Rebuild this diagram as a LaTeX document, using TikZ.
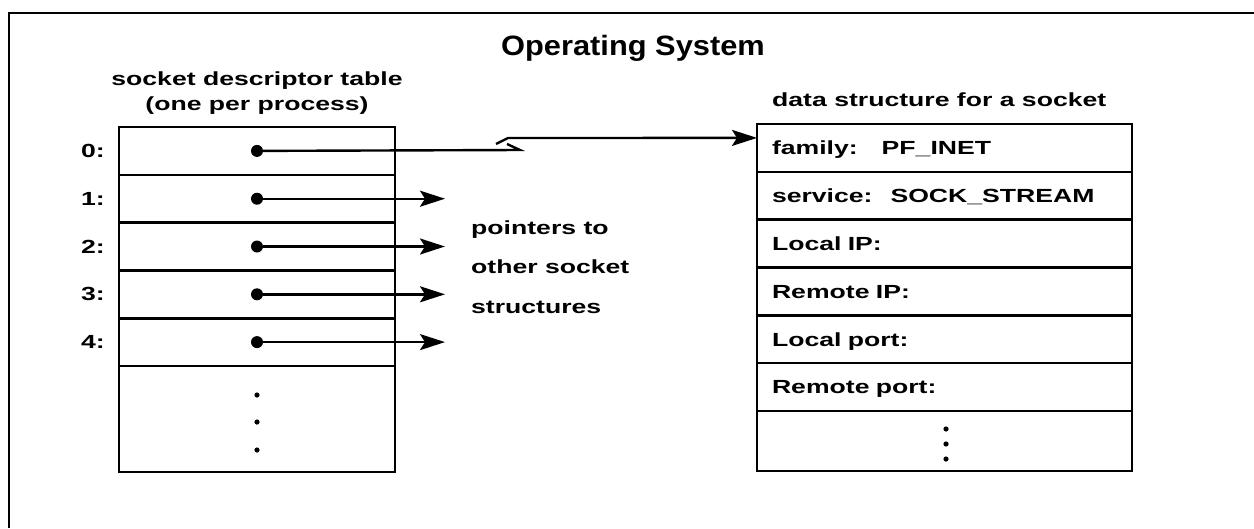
\documentclass[tikz,border=0pt]{standalone}
\usepackage{fontspec}
\setmainfont{Liberation Sans}[FakeStretch=1.4]
\newfontfamily\osfont{Liberation Sans}[FakeStretch=1.1]
\usetikzlibrary{math,positioning,arrows.meta}

\tikzset{
  slot/.style={draw, line width=2.6pt, minimum width=276pt, minimum height=47.8pt, inner sep=0pt, outer sep=0pt},
  field/.style={draw, line width=2.6pt, minimum width=375pt, minimum height=47.8pt, text width=345pt, align=left,
    inner xsep=15pt, inner ysep=0pt, outer sep=0pt, text height=17pt, text depth=3pt},
  dot/.style={circle, fill, inner sep=0pt, minimum size=12pt},
  wire/.style={line width=2.4pt},
  ptr/.style={line width=2.4pt, -{Stealth[length=25pt, width=16pt, inset=5pt]}},
}

\begin{document}
\begin{tikzpicture}[x=1pt, y=-1pt, font=\bfseries\fontsize{19}{23}\selectfont]
  \tikzmath{\rh = 47.8; \lx = 257; \rx = 944.5; \lt = 127; \rt = 124;}
  \useasboundingbox (0,0) rectangle (1254,528);

  % outer frame, cut off at right and bottom
  \draw[line width=2.6pt] (1254,13) -- (9,13) -- (9,528);
  \node[anchor=base, inner sep=0pt, font=\osfont\bfseries\fontsize{28}{30}\selectfont] (os) at (633,55) {Operating System};

  % socket descriptor table
  \node[anchor=base, inner sep=0pt] (sdt) at (\lx,85) {socket descriptor table};
  \node[anchor=base, inner sep=0pt] (opp) at (\lx,110) {(one per process)};
  \node[slot] (s0) at (\lx,\lt+\rh/2) {};
  \node[slot, below=0pt of s0] (s1) {};
  \node[slot, below=0pt of s1] (s2) {};
  \node[slot, below=0pt of s2] (s3) {};
  \node[slot, below=0pt of s3] (s4) {};
  \node[slot, below=0pt of s4, minimum height=106pt] (s5) {};
  \node[inner sep=0pt, left=14pt of s0] (i0) {0:};
  \node[inner sep=0pt, left=14pt of s1] (i1) {1:};
  \node[inner sep=0pt, left=14pt of s2] (i2) {2:};
  \node[inner sep=0pt, left=14pt of s3] (i3) {3:};
  \node[inner sep=0pt, left=14pt of s4] (i4) {4:};
  \fill (\lx,395) circle (2.6);
  \fill (\lx,422) circle (2.6);
  \fill (\lx,450) circle (2.6);

  % pointers
  \node[dot] (p0) at (s0.center) {};
  \node[dot] (p1) at (s1.center) {};
  \node[dot] (p2) at (s2.center) {};
  \node[dot] (p3) at (s3.center) {};
  \node[dot] (p4) at (s4.center) {};
  \coordinate (e1) at ([xshift=188pt]s1.center);
  \coordinate (e2) at ([xshift=188pt]s2.center);
  \coordinate (e3) at ([xshift=188pt]s3.center);
  \coordinate (e4) at ([xshift=188pt]s4.center);
  \draw[ptr] (p1) -- (e1);
  \draw[ptr] (p2) -- (e2);
  \draw[ptr] (p3) -- (e3);
  \draw[ptr] (p4) -- (e4);
  \node[anchor=base west, align=left, inner sep=0pt, font=\bfseries\fontsize{19}{39.5}\selectfont] (oth) at (471,313)
    {pointers to\\other socket\\structures};

  % data structure for a socket
  \node[anchor=base west, inner sep=0pt] (dss) at (772,106) {data structure for a socket};
  \node[field] (f1) at (\rx,\rt+\rh/2) {family:\hspace{24pt}PF\_INET};
  \node[field, below=0pt of f1] (f2) {service:\hspace{18pt}SOCK\_STREAM};
  \node[field, below=0pt of f2] (f3) {Local IP:};
  \node[field, below=0pt of f3] (f4) {Remote IP:};
  \node[field, below=0pt of f4] (f5) {Local port:};
  \node[field, below=0pt of f5] (f6) {Remote port:};
  \node[field, below=0pt of f6, minimum height=60pt] (f7) {};
  \fill (946,429) circle (2.6);
  \fill (946,444) circle (2.6);
  \fill (946,459) circle (2.6);

  % pointer 0, broken on its way across
  \coordinate (b0) at (520,150);
  \coordinate (b1) at (507,144);
  \coordinate (b2) at (496,144);
  \coordinate (b3) at (508,138);
  \coordinate (t0) at ([yshift=10pt]f1.west);
  \draw[wire] (p0) -- (b0) -- (b1);
  \draw[ptr] (b2) -- (b3) -- (t0);
\end{tikzpicture}
\end{document}
